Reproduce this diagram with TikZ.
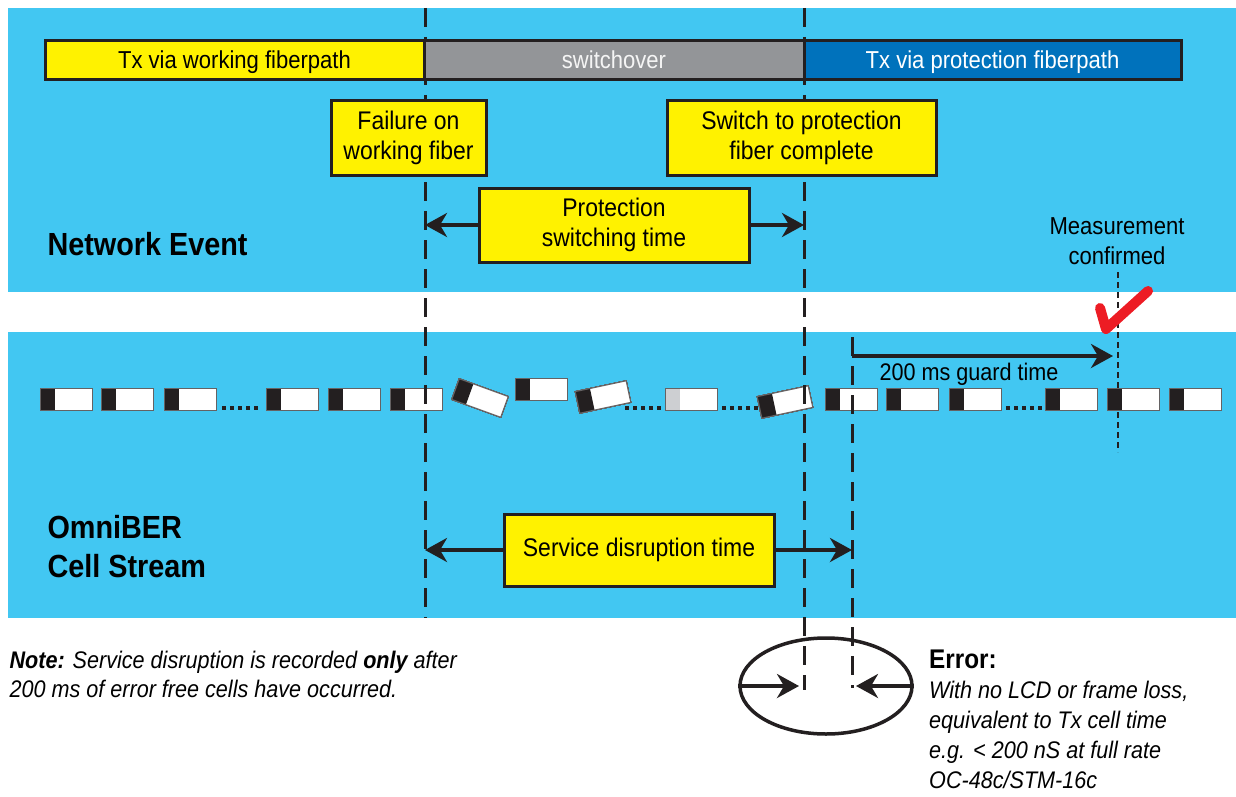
\documentclass[tikz,border=0pt]{standalone}
\usepackage{fontspec}
\setmainfont{Liberation Sans}[FakeStretch=0.9]
\usetikzlibrary{arrows.meta,shapes.geometric}

\definecolor{skyband}{RGB}{66,199,242}
\definecolor{boxyellow}{RGB}{255,242,0}
\definecolor{switchgray}{RGB}{147,149,152}
\definecolor{protblue}{RGB}{0,114,188}
\definecolor{ink}{RGB}{35,31,32}
\definecolor{checkred}{RGB}{237,28,36}
\definecolor{lostgray}{RGB}{205,207,210}

\tikzset{
  yellowbox/.style={draw=ink, line width=3pt, fill=boxyellow, align=center,
    inner sep=0pt, font=\fontsize{25.5}{30}\selectfont},
  barpart/.style={draw=ink, line width=3pt, minimum height=39pt, inner sep=0pt,
    text height=18pt, text depth=1pt, font=\fontsize{24.5}{28}\selectfont},
  timeline/.style={ink, line width=3pt, dash pattern=on 19pt off 10pt},
  span/.style={ink, line width=3.5pt, -{Stealth[length=22pt,width=24pt,inset=7pt]}},
  celledge/.style={draw=ink!70, line width=1pt},
}

\newcommand{\atmcell}[4]{%
  \begin{scope}[shift={(#1,#2)},rotate=#3]
    \fill[white] (-26,-11) rectangle (26,11);
    \fill[#4] (-26,-11) rectangle (-11,11);
    \draw[celledge] (-26,-11) rectangle (26,11);
  \end{scope}}

\begin{document}
\begin{tikzpicture}[x=1pt, y=-1pt]
  \useasboundingbox (0,0) rectangle (1236,797);
  \fill[skyband] (8,8) rectangle (1236,292);
  \fill[skyband] (8,332) rectangle (1236,618);

  % cell stream
  \foreach \cx in {66,127,190,292,354,416,851,912,975,1071,1133,1195}
    \atmcell{\cx}{399}{0}{ink}
  \atmcell{480}{398}{-20}{ink}
  \atmcell{541}{389}{0}{ink}
  \atmcell{603}{397}{12}{ink}
  \atmcell{691}{399}{0}{lostgray}
  \atmcell{785}{402}{12}{ink}
  \foreach \dx in {222,625,722,1006}
    \draw[ink, line width=4pt, dash pattern=on 4pt off 4pt] (\dx,408) -- +(37,0);

  % event lines
  \coordinate (fail) at (425,8);
  \coordinate (failend) at (425,618);
  \coordinate (done) at (804,8);
  \coordinate (doneend) at (804,690);
  \coordinate (resume) at (852,337);
  \coordinate (resumeend) at (852,688);
  \coordinate (confirm) at (1118,272);
  \coordinate (confirmend) at (1118,452);
  \draw[timeline] (fail) -- (failend);
  \draw[timeline] (done) -- (doneend);
  \draw[timeline] (resume) -- (resumeend);
  \draw[ink, line width=1.5pt, dash pattern=on 6pt off 4pt] (confirm) -- (confirmend);

  % top bar
  \node[barpart, fill=boxyellow, minimum width=379pt] (working) at (234.5,60) {Tx via working fiberpath};
  \node[barpart, fill=switchgray, text=white!92!gray, minimum width=380pt] (switchover) at (614,60) {switchover};
  \node[barpart, fill=protblue, text=white, minimum width=377pt] (protection) at (992.5,60) {Tx via protection fiberpath};

  \node[yellowbox, minimum width=155pt, minimum height=74pt] (failure) at (408.5,138) {Failure on\\working fiber};
  \node[yellowbox, minimum width=269pt, minimum height=74pt] (complete) at (801.5,138) {Switch to protection\\fiber complete};
  \node[yellowbox, minimum width=270pt, minimum height=74pt] (switching) at (614,225) {Protection\\switching time};
  \draw[span] (switching.west) -- (switching.west -| fail);
  \draw[span] (switching.east) -- (switching.east -| done);

  \node[anchor=west, font=\fontsize{32}{36}\selectfont\bfseries] (network) at (44,244) {Network Event};
  \node[align=center, font=\fontsize{24.5}{30}\selectfont] (measured) at (1117,241) {Measurement\\confirmed};
  \draw[checkred, line width=10pt, line cap=round, line join=round] (1100,308) -- (1106,329) -- (1148,291);

  % guard time
  \coordinate (guard) at (852,356);
  \draw[span] (guard) -- ([xshift=-5pt]guard -| confirm);
  \node[font=\fontsize{24}{28}\selectfont] (guardtext) at (969,374) {200 ms guard time};

  \node[anchor=west, align=left, font=\fontsize{32}{39}\selectfont\bfseries] (stream) at (44,547) {OmniBER\\Cell Stream};
  \node[yellowbox, minimum width=270pt, minimum height=72pt] (disruption) at (639,550) {Service disruption time};
  \draw[span] (disruption.west) -- (disruption.west -| fail);
  \draw[span] (disruption.east) -- (disruption.east -| resume);

  % error detail
  \node[ellipse, draw=ink, line width=3.5pt, minimum width=172pt, minimum height=96pt] (errzoom) at (826,686) {};
  \draw[span] (errzoom.west) -- ([xshift=-5pt]errzoom.west -| done);
  \draw[span] (errzoom.east) -- ([xshift=4pt]errzoom.east -| resume);

  \node[anchor=north west, align=left, font=\fontsize{24}{29}\selectfont\itshape] (note) at (6,648)
    {\textbf{Note:} Service disruption is recorded \textbf{only} after\\200 ms of error free cells have occurred.};
  \node[anchor=north west, align=left, inner sep=0pt, font=\fontsize{24}{30}\selectfont\itshape] (errtext) at (929,650)
    {{\upshape\bfseries\fontsize{27}{30}\selectfont Error:}\\With no LCD or frame loss,\\equivalent to Tx cell time\\e.g. < 200 nS at full rate\\OC-48c/STM-16c};
\end{tikzpicture}
\end{document}
